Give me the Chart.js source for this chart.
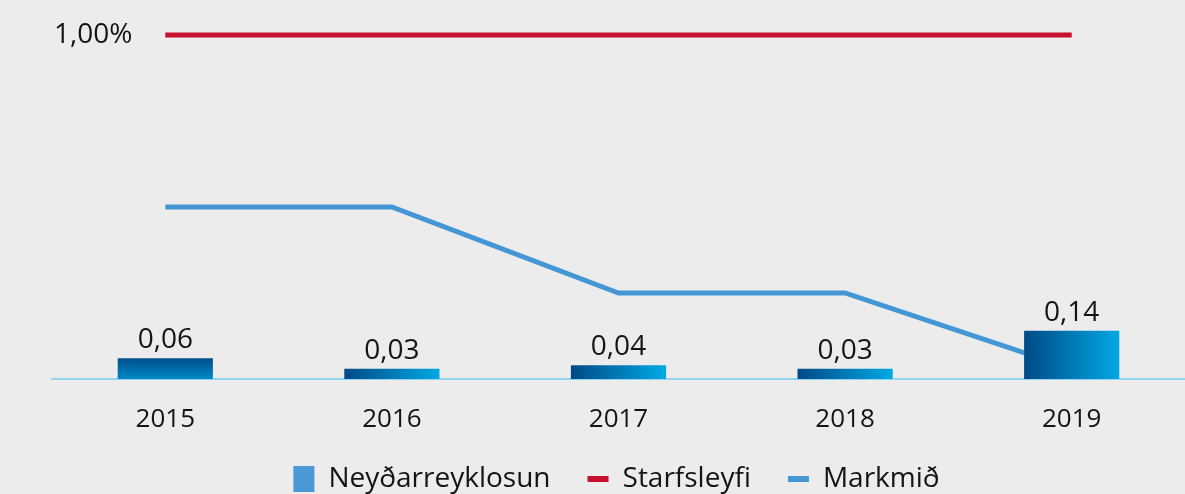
<!DOCTYPE html>
<html>
<head>
<meta charset="utf-8">
<script src="https://cdn.jsdelivr.net/npm/chart.js@4/dist/chart.umd.min.js"></script>
<style>
  html, body { margin: 0; padding: 0; background: #ececec; overflow: hidden; }
  #wrap { position: relative; width: 1185px; height: 503px; }
</style>
</head>
<body>
<div id="wrap"><canvas id="myChart"></canvas></div>
<script>
const years = ["2015", "2016", "2017", "2018", "2019"];
const neydarreyklosun = [0.06, 0.03, 0.04, 0.03, 0.14];
const starfsleyfi = [1.0, 1.0, 1.0, 1.0, 1.0];
const markmid = [0.5, 0.5, 0.25, 0.25, 0.03];
const yTicks = [1.0];

const FONT = "'Open Sans', Lato, sans-serif";
const BAR_PCT = 0.42;

function komma(v, d) {
  return v.toFixed(d).replace(".", ",");
}

function barColor(c) {
  const chart = c.chart;
  const xs = chart.scales.x, ys = chart.scales.y;
  if (!xs || !ys || c.dataIndex === undefined) return "#0077b8";
  const ctx = chart.ctx;
  if (c.dataIndex === 0) {
    const top = ys.getPixelForValue(neydarreyklosun[0]);
    const bottom = ys.getPixelForValue(0);
    const g = ctx.createLinearGradient(0, top, 0, bottom);
    g.addColorStop(0, "#004f8c");
    g.addColorStop(1, "#0088c8");
    return g;
  }
  const cx = xs.getPixelForValue(c.dataIndex);
  const w = (xs.width / years.length) * BAR_PCT;
  const g = ctx.createLinearGradient(cx - w / 2, 0, cx + w / 2, 0);
  g.addColorStop(0, "#004a87");
  g.addColorStop(1, "#00a9e4");
  return g;
}

const barLabels = {
  id: "barLabels",
  afterDatasetsDraw(chart) {
    const ctx = chart.ctx;
    const meta = chart.getDatasetMeta(0);
    ctx.save();
    ctx.font = "28px " + FONT;
    ctx.fillStyle = "#141414";
    ctx.textAlign = "center";
    ctx.textBaseline = "bottom";
    meta.data.forEach((el, i) => {
      ctx.fillText(komma(neydarreyklosun[i], 2), el.x, el.y - 4);
    });
    ctx.restore();
  }
};

const ctx = document.getElementById("myChart").getContext("2d");
new Chart(ctx, {
  type: "bar",
  data: {
    labels: years,
    datasets: [
      {
        type: "bar",
        label: "Neyðarreyklosun",
        data: neydarreyklosun,
        backgroundColor: barColor,
        barPercentage: BAR_PCT,
        categoryPercentage: 1,
        order: 0,
      },
      {
        type: "line",
        label: "Starfsleyfi",
        data: starfsleyfi,
        borderColor: "#c8102e",
        backgroundColor: "#c8102e",
        borderWidth: 5,
        pointRadius: 0,
        clip: false,
        order: 2,
      },
      {
        type: "line",
        label: "Markmið",
        data: markmid,
        borderColor: "#4596d4",
        backgroundColor: "#4596d4",
        borderWidth: 5,
        pointRadius: 0,
        clip: false,
        order: 1,
      },
    ],
  },
  options: {
    responsive: true,
    maintainAspectRatio: false,
    animation: false,
    layout: { padding: { left: 48, right: 0, top: 35, bottom: 0 } },
    plugins: {
      tooltip: { enabled: false },
      legend: {
        position: "bottom",
        labels: {
          color: "#141414",
          font: { family: FONT, size: 28 },
          usePointStyle: true,
          pointStyleWidth: 21,
          boxHeight: 26,
          padding: 37,
          generateLabels(chart) {
            return chart.data.datasets.map((ds, i) => ({
              text: ds.label,
              datasetIndex: i,
              pointStyle: i === 0 ? "rect" : "line",
              fillStyle: i === 0 ? "#4a98d5" : ds.borderColor,
              strokeStyle: i === 0 ? "rgba(0,0,0,0)" : ds.borderColor,
              lineWidth: i === 0 ? 0 : 6,
              fontColor: "#141414",
              hidden: false,
            }));
          },
        },
      },
    },
    scales: {
      x: {
        offset: true,
        grid: { display: false },
        border: { display: true, color: "#8fd3ef", width: 2 },
        ticks: { color: "#141414", font: { family: FONT, size: 26, lineHeight: 0 }, padding: 33 },
        afterFit(scale) {
          scale.height -= 25;
        },
      },
      y: {
        min: 0,
        max: 1,
        grid: { display: false, drawTicks: false },
        border: { display: false },
        afterBuildTicks(scale) {
          scale.ticks = yTicks.map((v) => ({ value: v }));
        },
        ticks: {
          mirror: true,
          padding: 2,
          color: "#141414",
          font: { family: FONT, size: 28 },
          callback: (v) => komma(v, 2) + "%",
        },
      },
    },
  },
  plugins: [barLabels],
});
</script>
</body>
</html>
